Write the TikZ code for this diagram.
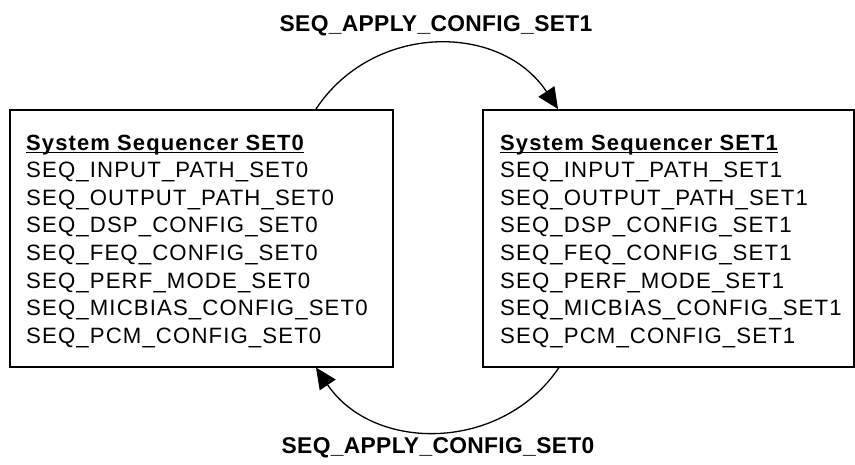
\documentclass[tikz,border=0pt]{standalone}
\usepackage{fontspec}
\setmainfont{Liberation Sans}
\newfontfamily\bodyfont[LetterSpace=5]{Liberation Sans}
\newfontfamily\labfont[LetterSpace=1.5]{Liberation Sans}
\usetikzlibrary{arrows.meta}
\begin{document}
\begin{tikzpicture}[x=1pt,y=-1pt,
  seqbox/.style={draw,line width=1.5pt,minimum width=383pt,minimum height=257pt,anchor=north west,inner sep=0pt},
  seqbox1/.style={seqbox,minimum width=371pt},
  titletext/.style={anchor=base west,inner sep=0pt,font=\bodyfont\bfseries\fontsize{22}{26}\selectfont},
  linetext/.style={anchor=base west,inner sep=0pt,font=\bodyfont\fontsize{22.2}{26}\selectfont},
  labtext/.style={inner sep=0pt,font=\labfont\bfseries\fontsize{22.8}{26}\selectfont},
  flow/.style={line width=1.3pt,-{Triangle[length=21pt,width=19pt]}}]
\useasboundingbox (0,0) rectangle (855,464);
% boxes
\node[seqbox] (s0) at (9,109) {};
\node[seqbox1] (s1) at (482,109) {};
% titles
\node[titletext] (t0) at (26,150) {System Sequencer SET0};
\node[titletext] (t1) at (500,150) {System Sequencer SET1};
\draw[line width=1.8pt] ([yshift=-2.5pt]t0.base west) -- ([yshift=-2.5pt]t0.base east);
\draw[line width=1.8pt] ([yshift=-2.5pt]t1.base west) -- ([yshift=-2.5pt]t1.base east);
% lines
\foreach \txt [count=\i] in {SEQ\_INPUT\_PATH, SEQ\_OUTPUT\_PATH, SEQ\_DSP\_CONFIG, SEQ\_FEQ\_CONFIG, SEQ\_PERF\_MODE, SEQ\_MICBIAS\_CONFIG, SEQ\_PCM\_CONFIG}{
  \node[linetext] (la\i) at (26,150+27.6*\i) {\txt\_SET0};
  \node[linetext] (lb\i) at (500,150+27.6*\i) {\txt\_SET1};
}
% connectors
\coordinate (a0) at ([xshift=307pt]s0.north west);
\coordinate (a1) at ([xshift=76pt]s1.north west);
\coordinate (b1) at ([xshift=77pt]s1.south west);
\coordinate (b0) at ([xshift=307pt]s0.south west);
\draw[flow] (a0) .. controls (373.3,22.4) and (500.7,22.4) .. (a1);
\draw[flow] (b1) .. controls (501.7,452.6) and (373.3,452.6) .. (b0);
% labels
\node[labtext] (lt) at (436,26) {SEQ\_APPLY\_CONFIG\_SET1};
\node[labtext] (lbt) at (438,448) {SEQ\_APPLY\_CONFIG\_SET0};
\end{tikzpicture}
\end{document}
